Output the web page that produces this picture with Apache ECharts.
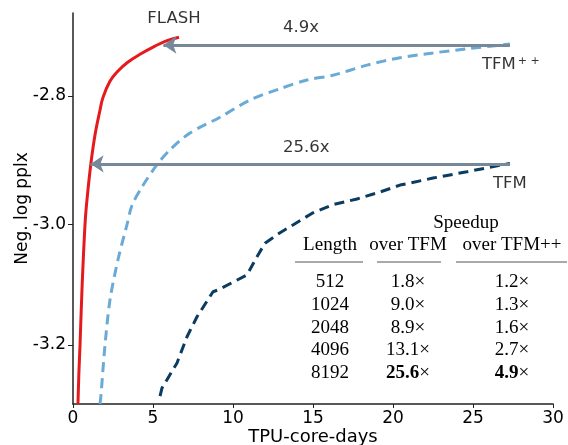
<!DOCTYPE html>
<html><head><meta charset="utf-8">
<script src="https://cdn.jsdelivr.net/npm/echarts@6/dist/echarts.min.js"></script>
<style>html,body{margin:0;padding:0;background:#fff}#c{width:568px;height:445px}</style>
</head><body><div id="c"></div>
<script>
// ---- data (x: TPU-core-days, y: Neg. log pplx) ----
const flashX   = [0.31, 0.375, 0.44, 0.56, 0.75, 0.875, 1.125, 1.375, 1.69, 1.875, 2.31, 2.8, 3.4, 4.19, 5.125, 5.875, 6.625];
const flashY   = [-3.303, -3.243, -3.200, -3.107, -3.000, -2.960, -2.902, -2.859, -2.821, -2.802, -2.778, -2.763, -2.750, -2.738, -2.726, -2.718, -2.713];
const tfmppX   = [1.69, 1.75, 2.0, 2.31, 2.81, 3.375, 3.69, 4.31, 5.25, 6.06, 7.31, 9.19, 11.06, 12.94, 14.625, 16.25, 18.375, 20.44, 22.5, 24.625, 27.31];
const tfmppY   = [-3.303, -3.287, -3.200, -3.124, -3.057, -3.000, -2.969, -2.940, -2.905, -2.882, -2.856, -2.832, -2.806, -2.789, -2.776, -2.769, -2.754, -2.743, -2.736, -2.730, -2.723];
const tfmX     = [5.44, 5.56, 6.5, 7.125, 7.75, 8.75, 9.06, 10.875, 11.5, 12.0, 12.94, 15.0, 16.25, 17.75, 19.19, 20.44, 22.5, 24.625, 27.31];
const tfmY     = [-3.289, -3.275, -3.231, -3.186, -3.152, -3.110, -3.107, -3.082, -3.052, -3.030, -3.013, -2.981, -2.968, -2.959, -2.948, -2.937, -2.926, -2.916, -2.903];
const yTicks   = [-3.2, -3.0, -2.8];
const arrows   = [ {from: 27.31, to: 5.65, y: -2.7244, label: '4.9x'}, {from: 27.31, to: 1.10, y: -2.9039, label: '25.6x'} ];
const notes    = [ {text: 'FLASH', x: 6.31, y: -2.6867, pos: 'inside'},
                   {text: '4.9x', x: 13.125, y: -2.6997, pos: 'right'},
                   {text: '25.6x', x: 13.125, y: -2.879, pos: 'right'},
                   {text: 'TFM{sup|+ +}', x: 25.56, y: -2.754, pos: 'right'},
                   {text: 'TFM', x: 26.25, y: -2.935, pos: 'right'} ];
// table
const tableGroup = 'Speedup';
const tableHead  = ['Length', 'over TFM', 'over TFM++'];
const lengths    = ['512', '1024', '2048', '4096', '8192'];
const speedTFM   = ['1.8', '9.0', '8.9', '13.1', '25.6'];
const speedTFMpp = ['1.2', '1.3', '1.6', '2.7', '4.9'];
const boldRow    = 4;

// log-scaled y (axis is logarithmic in pplx)
const t = v => -Math.log(-v);
const yMin = t(-3.303), yMax = t(-2.678);
const pts = (xs, ys) => xs.map((x, i) => [x, t(ys[i])]);

const FONT = 'DejaVu Sans';
const SERIF = 'Liberation Serif';

// table graphics
const colX = [330, 408, 512];
const headY = 245, rowY0 = 282, rowStep = 22.8;
const rules = [[295, 363], [377, 441], [456, 567]];
const tStyle = (text, x, y) => ({
  type: 'text', z: 10,
  style: { text, x, y, align: 'center', verticalAlign: 'middle',
    font: '19px "' + SERIF + '"', fill: '#000',
    rich: { b: { fontWeight: 'bold', fontSize: 19, fontFamily: SERIF, fill: '#000' } } }
});
const graphic = [];
graphic.push(tStyle(tableGroup, 466, 223));
tableHead.forEach((h, i) => graphic.push(tStyle(h, colX[i], headY)));
rules.forEach(r => graphic.push({ type: 'line', z: 10, shape: { x1: r[0], y1: 262, x2: r[1], y2: 262 }, style: { stroke: '#555', lineWidth: 1 } }));
lengths.forEach((l, i) => {
  const y = rowY0 + i * rowStep;
  const b = i === boldRow;
  graphic.push(tStyle(l, colX[0], y));
  graphic.push(tStyle((b ? '{b|' + speedTFM[i] + '}' : speedTFM[i]) + '×', colX[1], y));
  graphic.push(tStyle((b ? '{b|' + speedTFMpp[i] + '}' : speedTFMpp[i]) + '×', colX[2], y));
});

const chart = echarts.init(document.getElementById('c'));
chart.setOption({
  animation: false,
  backgroundColor: '#fff',
  grid: { left: 73, right: 15, top: 13, bottom: 41, outerBoundsMode: 'none', containLabel: false },
  xAxis: {
    type: 'value', min: 0, max: 30, interval: 5,
    name: 'TPU-core-days', nameLocation: 'middle', nameGap: 24, nameMoveOverlap: false,
    nameTextStyle: { fontFamily: FONT, fontSize: 18, color: '#000' },
    axisLine: { lineStyle: { color: '#222', width: 1.5 } },
    axisTick: { length: 4, lineStyle: { color: '#222' } },
    axisLabel: { fontFamily: FONT, fontSize: 17, color: '#000', margin: 6 },
    splitLine: { show: false }
  },
  yAxis: {
    type: 'value', min: yMin, max: yMax,
    name: 'Neg. log pplx', nameLocation: 'middle', nameGap: 42, nameMoveOverlap: false,
    nameTextStyle: { fontFamily: FONT, fontSize: 17, color: '#000' },
    axisLine: { show: true, lineStyle: { color: '#222', width: 1.5 } },
    axisTick: { show: true, length: 5, customValues: yTicks.map(t), lineStyle: { color: '#222' } },
    axisLabel: { fontFamily: FONT, fontSize: 17, color: '#000', margin: 7,
      customValues: yTicks.map(t), formatter: v => (-Math.exp(-v)).toFixed(1) },
    splitLine: { show: false }
  },
  series: [
    { name: 'FLASH', type: 'line', data: pts(flashX, flashY), showSymbol: false, smooth: 0.4,
      lineStyle: { color: '#e41a1c', width: 3 }, z: 4 },
    { name: 'TFM++', type: 'line', data: pts(tfmppX, tfmppY), showSymbol: false, smooth: 0.3,
      lineStyle: { color: '#6aaad6', width: 3, type: [10, 6] }, z: 4 },
    { name: 'TFM', type: 'line', data: pts(tfmX, tfmY), showSymbol: false,
      lineStyle: { color: '#0b3b5e', width: 3, type: [10, 6] }, z: 4 },
    { name: 'notes', type: 'scatter', symbolSize: 0, z: 5,
      data: notes.map(n => ({ value: [n.x, t(n.y)], label: { show: true, position: n.pos, distance: 0, formatter: n.text } })),
      label: { fontFamily: FONT, fontSize: 16.5, color: '#000',
        rich: { sup: { fontFamily: FONT, fontSize: 11, color: '#000', padding: [0, 0, 9, 2] } } },
      markLine: {
        silent: true, symbol: ['none', 'arrow'], symbolSize: 13,
        label: { show: false },
        lineStyle: { color: '#778899', width: 3, type: 'solid' },
        data: arrows.map(a => [{ coord: [a.from, t(a.y)] }, { coord: [a.to, t(a.y)] }])
      }
    }
  ],
  graphic
});
</script></body></html>
